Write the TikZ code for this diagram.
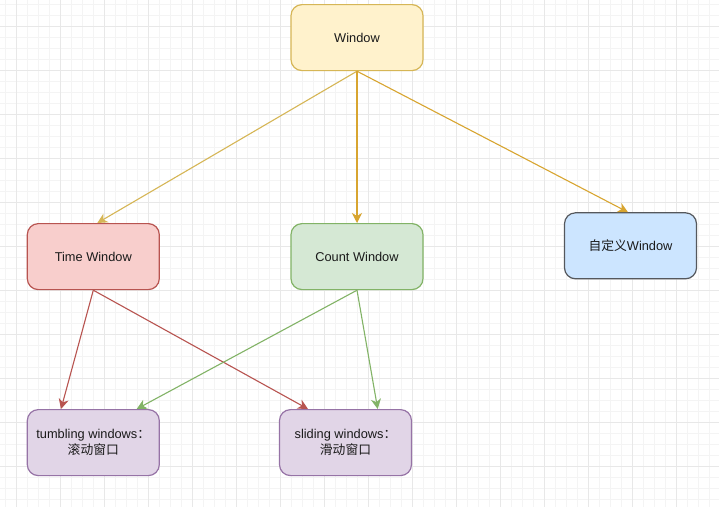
\documentclass[tikz,border=0pt]{standalone}
\usepackage{fontspec}
\setmainfont{Liberation Sans}
\newfontfamily\cjk{Noto Sans CJK SC}
\usetikzlibrary{arrows.meta}
\definecolor{gridmin}{HTML}{F4F4F4}
\definecolor{gridmaj}{HTML}{E8E8E8}
\definecolor{yfill}{HTML}{FFF2CC}\definecolor{ydraw}{HTML}{D6B656}
\definecolor{rfill}{HTML}{F8CECC}\definecolor{rdraw}{HTML}{B85450}
\definecolor{gfill}{HTML}{D5E8D4}\definecolor{gdraw}{HTML}{82B366}
\definecolor{bfill}{HTML}{CCE5FF}\definecolor{bdraw}{HTML}{55585D}
\definecolor{pfill}{HTML}{E1D5E7}\definecolor{pdraw}{HTML}{9673A6}
\definecolor{odraw}{HTML}{D8A530}
\definecolor{txt}{HTML}{1A1A1A}
\tikzset{
  box/.style={rectangle, rounded corners=11pt, minimum width=132pt, minimum height=66pt,
    line width=1.2pt, align=center, inner sep=0pt, text=txt,
    font=\fontsize{12.8}{15.5}\selectfont},
  conn/.style={line width=1.1pt, -{Stealth[length=10pt,width=10pt,inset=3pt]}},
}
\begin{document}
\begin{tikzpicture}[x=1pt,y=-1pt]
\useasboundingbox (0,0) rectangle (719,507);
\fill[white] (0,0) rectangle (719,507);
% grid
\foreach \i in {0,...,65}{\draw[gridmin,line width=0.8pt] ({5.7+11*\i},0) -- ({5.7+11*\i},507);}
\foreach \i in {0,...,46}{\draw[gridmin,line width=0.8pt] (0,{4.7+11*\i}) -- (719,{4.7+11*\i});}
\foreach \i in {0,...,16}{\draw[gridmaj,line width=1pt] ({16.7+44*\i},0) -- ({16.7+44*\i},507);}
\foreach \i in {0,...,11}{\draw[gridmaj,line width=1pt] (0,{26.7+44*\i}) -- (719,{26.7+44*\i});}
% nodes
\node[box, fill=yfill, draw=ydraw] (win) at (357,37.6) {Window};
\node[box, fill=rfill, draw=rdraw] (time) at (93.3,256.6) {Time Window};
\node[box, fill=gfill, draw=gdraw] (count) at (357,256.6) {Count Window};
\node[box, fill=bfill, draw=bdraw] (custom) at (630.5,245.8) {{\cjk 自定义}Window};
\node[box, fill=pfill, draw=pdraw] (tumb) at (93.3,442.6) {tumbling windows{\cjk ：}\\{\cjk 滚动窗口}};
\node[box, fill=pfill, draw=pdraw] (slide) at (345.5,442.6) {sliding windows{\cjk ：}\\{\cjk 滑动窗口}};
% connectors
\draw[conn, ydraw] (win.south) -- ([xshift=4pt]time.north);
\draw[conn, odraw] (win.south) -- (count.north);
\draw[conn, odraw] (win.south) -- ([xshift=-2.5pt]custom.north);
\draw[conn, rdraw] (time.south) -- ([xshift=-32.3pt]tumb.north);
\draw[conn, rdraw] (time.south) -- ([xshift=-37.5pt]slide.north);
\draw[conn, gdraw] (count.south) -- ([xshift=43.4pt]tumb.north);
\draw[conn, gdraw] (count.south) -- ([xshift=32.2pt]slide.north);
\end{tikzpicture}
\end{document}
